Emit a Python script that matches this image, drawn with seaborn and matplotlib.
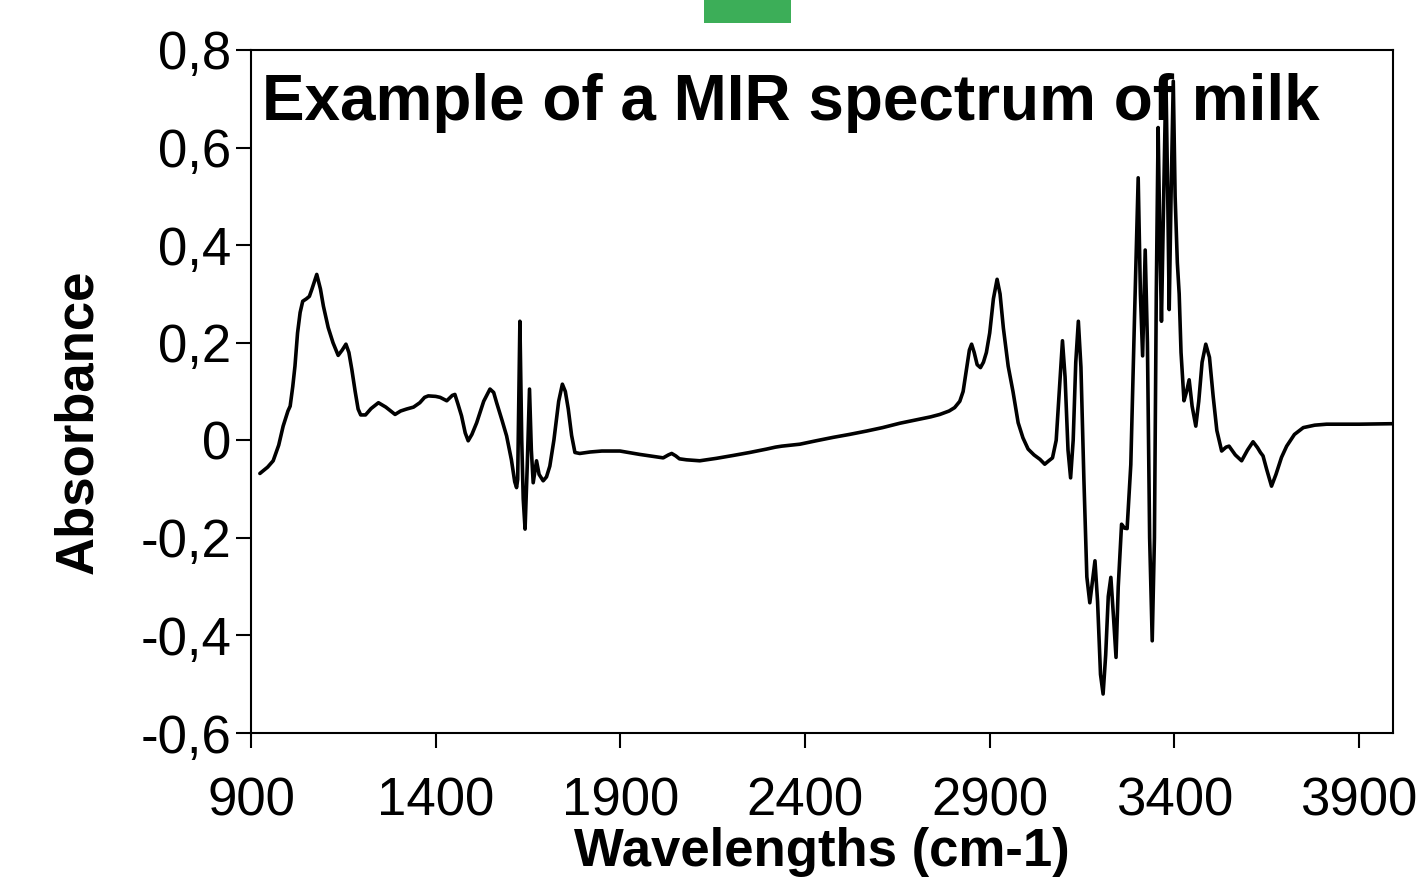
import numpy as np
import pandas as pd
import matplotlib
matplotlib.use('Agg')
import matplotlib.pyplot as plt
from matplotlib.patches import Rectangle
import seaborn as sns

wavenumber = [924, 945, 960, 975, 987, 1000, 1006, 1013, 1019, 1026, 1033, 1040, 1050, 1058, 1065,
              1078, 1088, 1096, 1109, 1122, 1136, 1147, 1157, 1165, 1173, 1182, 1190, 1197, 1210,
              1225, 1245, 1265, 1290, 1305, 1321, 1340, 1357, 1370, 1380, 1400, 1412, 1430, 1445,
              1452, 1460, 1470, 1480, 1488, 1498, 1511, 1530, 1547, 1557, 1565, 1580, 1592, 1605,
              1614, 1619, 1622, 1628, 1633, 1637, 1642, 1648, 1654, 1659, 1664, 1673, 1680, 1691,
              1700, 1709, 1720, 1733, 1743, 1751, 1759, 1768, 1777, 1790, 1818, 1850, 1899, 1953,
              2016, 2030, 2039, 2050, 2060, 2079, 2115, 2160, 2206, 2250, 2296, 2320, 2337, 2386,
              2430, 2476, 2520, 2567, 2610, 2657, 2702, 2740, 2765, 2790, 2805, 2819, 2828, 2837,
              2845, 2851, 2858, 2866, 2875, 2883, 2891, 2900, 2910, 2920, 2928, 2937, 2950, 2963,
              2977, 2990, 3004, 3020, 3036, 3049, 3060, 3070, 3080, 3090, 3097, 3104, 3112, 3119,
              3126, 3133, 3140, 3147, 3155, 3163, 3171, 3178, 3185, 3192, 3200, 3207, 3214, 3221,
              3228, 3235, 3242, 3248, 3257, 3265, 3272, 3282, 3292, 3302, 3308, 3314, 3321, 3327,
              3333, 3340, 3346, 3351, 3356, 3361, 3365, 3371, 3377, 3382, 3386, 3391, 3397, 3402,
              3408, 3413, 3418, 3426, 3433, 3440, 3448, 3458, 3466, 3475, 3485, 3495, 3505, 3515,
              3528, 3540, 3548, 3565, 3582, 3598, 3613, 3625, 3633, 3640, 3650, 3663, 3675, 3690,
              3704, 3725, 3749, 3780, 3812, 3900, 3990]
absorbance = [-0.068, -0.055, -0.042, -0.010, 0.029, 0.060, 0.070, 0.110, 0.152, 0.220, 0.262, 0.285,
              0.290, 0.295, 0.310, 0.340, 0.310, 0.275, 0.231, 0.200, 0.174, 0.185, 0.197, 0.180,
              0.145, 0.100, 0.064, 0.052, 0.052, 0.065, 0.077, 0.068, 0.053, 0.060, 0.064, 0.068,
              0.077, 0.088, 0.091, 0.090, 0.088, 0.081, 0.092, 0.094, 0.075, 0.050, 0.015, -0.001,
              0.012, 0.036, 0.080, 0.105, 0.098, 0.077, 0.040, 0.009, -0.040, -0.085, -0.097, -0.080,
              0.244, 0.000, -0.120, -0.182, -0.050, 0.105, -0.020, -0.087, -0.042, -0.070, -0.083,
              -0.075, -0.053, 0.000, 0.080, 0.115, 0.100, 0.064, 0.010, -0.025, -0.027, -0.024,
              -0.022, -0.022, -0.029, -0.036, -0.030, -0.027, -0.032, -0.038, -0.040, -0.042, -0.037,
              -0.031, -0.025, -0.018, -0.014, -0.012, -0.008, -0.001, 0.006, 0.012, 0.019, 0.026,
              0.035, 0.042, 0.048, 0.053, 0.060, 0.067, 0.080, 0.100, 0.145, 0.185, 0.197, 0.180,
              0.155, 0.149, 0.160, 0.180, 0.220, 0.290, 0.330, 0.300, 0.230, 0.152, 0.100, 0.036,
              0.005, -0.018, -0.030, -0.039, -0.049, -0.042, -0.036, 0.000, 0.120, 0.204, 0.130,
              -0.020, -0.077, 0.000, 0.160, 0.244, 0.150, -0.080, -0.280, -0.333, -0.290, -0.247,
              -0.330, -0.480, -0.520, -0.440, -0.320, -0.281, -0.360, -0.445, -0.300, -0.172, -0.180,
              -0.181, -0.050, 0.250, 0.538, 0.300, 0.173, 0.390, 0.200, -0.200, -0.411, -0.200,
              0.300, 0.641, 0.400, 0.244, 0.500, 0.747, 0.500, 0.268, 0.500, 0.736, 0.500, 0.364,
              0.300, 0.180, 0.081, 0.100, 0.124, 0.070, 0.029, 0.080, 0.160, 0.197, 0.170, 0.090,
              0.020, -0.022, -0.014, -0.012, -0.030, -0.042, -0.020, -0.003, -0.015, -0.025, -0.032,
              -0.060, -0.094, -0.070, -0.035, -0.012, 0.012, 0.026, 0.031, 0.033, 0.033, 0.034]

x_ticks = [900, 1400, 1900, 2400, 2900, 3400, 3900]
y_ticks = [-0.6, -0.4, -0.2, 0, 0.2, 0.4, 0.6, 0.8]
y_tick_labels = ['-0,6', '-0,4', '-0,2', '0', '0,2', '0,4', '0,6', '0,8']

df = pd.DataFrame({'wavenumber': wavenumber, 'absorbance': absorbance})

sns.set_style('white')
plt.rcParams['font.family'] = ['Liberation Sans', 'DejaVu Sans']
plt.rcParams['text.color'] = 'black'
plt.rcParams['axes.labelcolor'] = 'black'

fig = plt.figure(figsize=(14.27, 8.91), dpi=100)
ax = fig.add_axes([0.1759, 0.1773, 0.8003, 0.7666])

sns.lineplot(data=df, x='wavenumber', y='absorbance', sort=False, color='black',
             linewidth=2.6, ax=ax)

ax.set_xlim(900, 3992)
ax.set_ylim(-0.6, 0.8)
ax.set_xticks(x_ticks)
ax.set_xticklabels([str(t) for t in x_ticks])
ax.set_yticks(y_ticks)
ax.set_yticklabels(y_tick_labels)

for s in ax.spines.values():
    s.set_color('black')
    s.set_linewidth(1.5)

ax.tick_params(axis='both', direction='out', length=11, width=1.5, labelsize=38,
               colors='black', left=True, bottom=True)
ax.tick_params(axis='x', pad=20)
ax.tick_params(axis='y', pad=3)

ax.set_xlabel('Wavelengths (cm-1)', fontsize=38, fontweight='bold', va='center')
ax.set_ylabel('Absorbance', fontsize=38, fontweight='bold', va='center')
ax.xaxis.set_label_coords(0.5, -0.174)
ax.yaxis.set_label_coords(-0.1515, 0.455)

ax.text(0.01, 0.922, 'Example of a MIR spectrum of milk', transform=ax.transAxes,
        fontsize=46, fontweight='bold', ha='left', va='center')

# Rectangulo verde arriba
fig.patches.append(Rectangle((704 / 1427, 1 - 23 / 891), 87 / 1427, 23 / 891,
                             transform=fig.transFigure, facecolor='#3cae58',
                             edgecolor='none'))

fig.savefig('out.png', dpi=100)
